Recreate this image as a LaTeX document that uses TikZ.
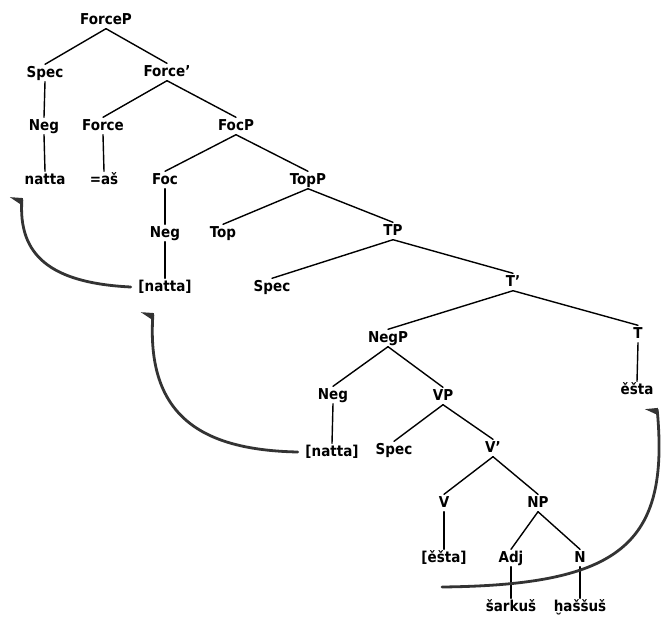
\documentclass[tikz,border=0pt]{standalone}
\usepackage{fontspec}
\setmainfont{DejaVu Sans Condensed}
\usetikzlibrary{arrows.meta}
\begin{document}
\begin{tikzpicture}[x=1pt,y=-1pt,
  tn/.style={inner sep=1.5pt, text height=11pt, text depth=3pt, font=\fontsize{15}{17}\selectfont\bfseries},
  br/.style={line width=1.4pt, line cap=round},
  mv/.style={line width=2.8pt, draw=black!80, line cap=round,
    -{Triangle[reversed,left,length=7pt,width=24pt]}}]
\useasboundingbox[fill=white] (0,0) rectangle (663,621);
% nodes
\node[tn] (forcep) at (106,20) {ForceP};
\node[tn] (spec1) at (45,73) {Spec};
\node[tn] (forcebar) at (167,72) {Force'};
\node[tn] (neg1) at (44,126) {Neg};
\node[tn] (force) at (103,126) {Force};
\node[tn] (focp) at (236,126) {FocP};
\node[tn] (natta1) at (45,180) {natta};
\node[tn] (as) at (104,180) {=aš};
\node[tn] (foc) at (165,180) {Foc};
\node[tn] (topp) at (308,180) {TopP};
\node[tn] (neg2) at (165,233) {Neg};
\node[tn] (top) at (223,233) {Top};
\node[tn] (tp) at (393,231) {TP};
\node[tn] (natta2) at (165,287) {[natta]};
\node[tn] (spec2) at (272,287) {Spec};
\node[tn] (tbar) at (513,282) {T'};
\node[tn] (negp) at (388,338) {NegP};
\node[tn] (t) at (638,334) {T};
\node[tn] (neg3) at (333,395) {Neg};
\node[tn] (vp) at (443,396) {VP};
\node[tn] (esta1) at (637,390) {ěšta};
\node[tn] (natta3) at (332,452) {[natta]};
\node[tn] (spec3) at (394,450) {Spec};
\node[tn] (vbar) at (493,448) {V'};
\node[tn] (v) at (444,503) {V};
\node[tn] (np) at (538,503) {NP};
\node[tn] (esta2) at (444,558) {[ěšta]};
\node[tn] (adj) at (511,558) {Adj};
\node[tn] (n) at (580,558) {N};
\node[tn] (sarkus) at (511,607) {šarkuš};
\node[tn] (hassus) at (580,607) {ḫaššuš};
% branches
\foreach \p/\c in {forcep/spec1, forcep/forcebar, spec1/neg1, neg1/natta1,
  forcebar/force, forcebar/focp, force/as, focp/foc, focp/topp, foc/neg2,
  neg2/natta2, topp/top, topp/tp, tp/spec2, tp/tbar, tbar/negp, tbar/t,
  t/esta1, negp/neg3, negp/vp, neg3/natta3, vp/spec3, vp/vbar, vbar/v,
  vbar/np, v/esta2, np/adj, np/n, adj/sarkus, n/hassus}
  \draw[br] (\p.south) -- (\c.north);
% movement arrows
\coordinate (s3) at (442,587);
\coordinate (e1) at (22,198);
\coordinate (e2) at (153,313);
\coordinate (e3) at (657,408);
\draw[mv] ([xshift=-6pt]natta2.west) .. controls (50,283) and (18,255) .. (e1);
\draw[mv] ([xshift=-6pt]natta3.west) .. controls (200,450) and (146,415) .. (e2);
\draw[mv] (s3) .. controls (620,585) and (670,545) .. (e3);
\end{tikzpicture}
\end{document}
